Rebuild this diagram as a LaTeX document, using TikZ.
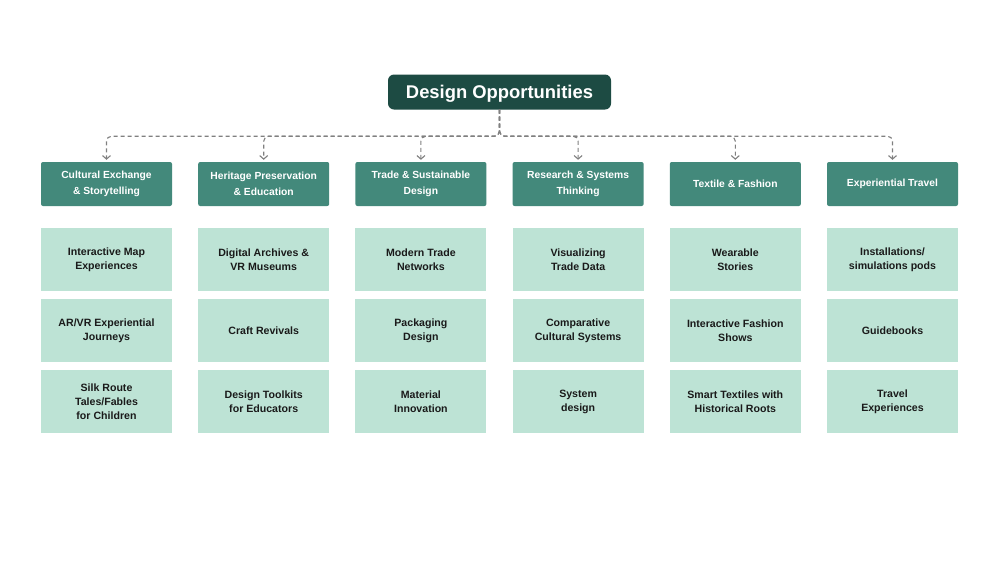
\documentclass[tikz,border=0pt]{standalone}
\usepackage{fontspec}
\setmainfont{Liberation Sans}
\usetikzlibrary{arrows.meta}
\definecolor{rootc}{HTML}{1D4B43}
\definecolor{catc}{HTML}{43897B}
\definecolor{leafc}{HTML}{BDE3D5}
\definecolor{leaftext}{HTML}{1A1A1A}
\definecolor{connc}{HTML}{808080}
\begin{document}
\begin{tikzpicture}[x=1pt,y=-1pt,
 rootbox/.style={fill=rootc, rounded corners=6pt, minimum width=223pt, minimum height=35pt, text=white, font=\bfseries\fontsize{18.4}{22}\selectfont, inner sep=0pt, text height=13.2pt, text depth=0pt},
 catbox/.style={fill=catc, rounded corners=2pt, minimum width=131pt, minimum height=44pt, text=white, font=\bfseries\fontsize{10.3}{16}\selectfont, align=center, inner sep=0pt},
 leafbox/.style={fill=leafc, minimum width=131pt, minimum height=63pt, text=leaftext, font=\bfseries\fontsize{10.6}{14}\selectfont, align=center, inner sep=0pt},
 conn/.style={draw=connc, line width=1.1pt, dash pattern=on 4pt off 3pt, rounded corners=5pt, -{Straight Barb[length=3.5pt,width=8pt,line width=1.1pt]}, shorten >=2pt}
]
\useasboundingbox[fill=white] (0,0) rectangle (1000,563);

\node[rootbox] (root) at (499.5,92) {Design Opportunities};

\node[catbox] (c1) at (106.5,184) {Cultural Exchange\\\& Storytelling};
\node[catbox] (c2) at (263.7,184) {Heritage Preservation\\\& Education};
\node[catbox] (c3) at (420.9,184) {Trade \& Sustainable\\Design};
\node[catbox] (c4) at (578.1,184) {Research \& Systems\\Thinking};
\node[catbox] (c5) at (735.3,184) {Textile \& Fashion};
\node[catbox] (c6) at (892.5,184) {Experiential Travel};

\node[leafbox] (l11) at (106.5,259.5) {Interactive Map\\Experiences};
\node[leafbox] (l12) at (106.5,330.5) {AR/VR Experiential\\Journeys};
\node[leafbox] (l13) at (106.5,401.5) {Silk Route\\Tales/Fables\\for Children};

\node[leafbox] (l21) at (263.7,259.5) {Digital Archives \&\\VR Museums};
\node[leafbox] (l22) at (263.7,330.5) {Craft Revivals};
\node[leafbox] (l23) at (263.7,401.5) {Design Toolkits\\for Educators};

\node[leafbox] (l31) at (420.9,259.5) {Modern Trade\\Networks};
\node[leafbox] (l32) at (420.9,330.5) {Packaging\\Design};
\node[leafbox] (l33) at (420.9,401.5) {Material\\Innovation};

\node[leafbox] (l41) at (578.1,259.5) {Visualizing\\Trade Data};
\node[leafbox] (l42) at (578.1,330.5) {Comparative\\Cultural Systems};
\node[leafbox] (l43) at (578.1,401.5) {System\\design};

\node[leafbox] (l51) at (735.3,259.5) {Wearable\\Stories};
\node[leafbox] (l52) at (735.3,330.5) {Interactive Fashion\\Shows};
\node[leafbox] (l53) at (735.3,401.5) {Smart Textiles with\\Historical Roots};

\node[leafbox] (l61) at (892.5,259.5) {Installations/\\simulations pods};
\node[leafbox] (l62) at (892.5,330.5) {Guidebooks};
\node[leafbox] (l63) at (892.5,401.5) {Travel\\Experiences};

\foreach \c in {c1,c2,c3,c4,c5,c6}
  \draw[conn] (root.south) -- ++(0,26.5) -| (\c.north);
\end{tikzpicture}
\end{document}
